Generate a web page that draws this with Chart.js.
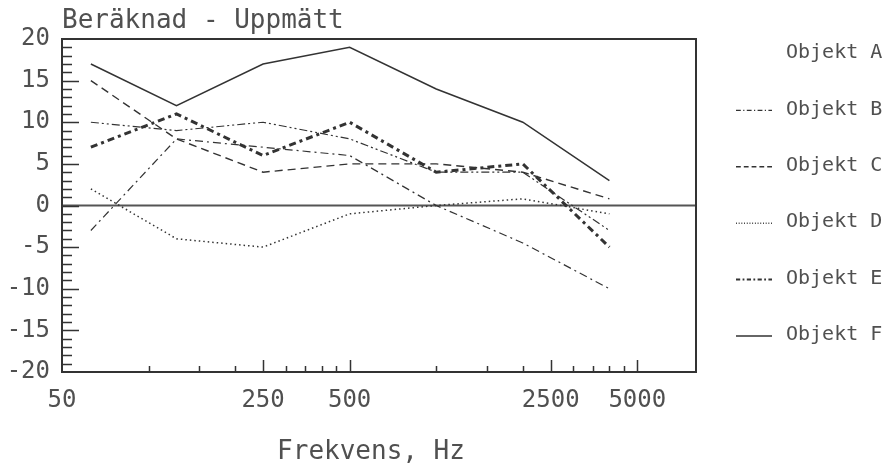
<!DOCTYPE html>
<html>
<head>
<meta charset="utf-8">
<script src="https://cdn.jsdelivr.net/npm/chart.js@4.4.1/dist/chart.umd.min.js"></script>
<style>
  html, body { margin: 0; padding: 0; background: #fff; }
  canvas { display: block; }
</style>
</head>
<body>
<canvas id="chart" width="889" height="463"></canvas>
<script>
// frekvenser (oktavband) och skillnad beräknad - uppmätt
const freqs = [63, 125, 250, 500, 1000, 2000, 4000];
const objektA = [10, 9, 10, 8, 4, 4, -3];
const objektB = [-3, 8, 7, 6, 0, -4.5, -10];
const objektC = [15, 8, 4, 5, 5, 4, 0.8];
const objektD = [2, -4, -5, -1, 0, 0.8, -1];
const objektE = [7, 11, 6, 10, 4, 5, -5];
const objektF = [17, 12, 17, 19, 14, 10, 3];

const xTicks = [50, 100, 150, 200, 250, 300, 350, 400, 450, 500, 1000, 1500, 2000, 2500, 3000, 3500, 4000, 4500, 5000];
const xLabels = [50, 250, 500, 2500, 5000];
const seriesNames = ['Objekt A', 'Objekt B', 'Objekt C', 'Objekt D', 'Objekt E', 'Objekt F'];

const ink = '#333';
const textInk = '#505050';
const font = 'DejaVu Sans Mono';

const toPoints = arr => freqs.map((f, i) => ({ x: f, y: arr[i] }));

const styles = [
    { borderDash: [8, 3, 2, 3, 2, 3], borderWidth: 1.2 },
    { borderDash: [8, 4, 2, 4], borderWidth: 1.2 },
    { borderDash: [8, 5], borderWidth: 1.4 },
    { borderDash: [1.5, 3], borderWidth: 1.5 },
    { borderDash: [7, 4, 3, 4], borderWidth: 3 },
    { borderDash: [], borderWidth: 1.5 }
];

const allData = [objektA, objektB, objektC, objektD, objektE, objektF];

// ram, nollinje, ticks, titlar och legend
const decor = {
    id: 'decor',
    beforeDatasetsDraw(chart) {
        const { ctx, chartArea: a, scales: { y } } = chart;
        ctx.save();
        ctx.strokeStyle = '#555';
        ctx.lineWidth = 2;
        const y0 = y.getPixelForValue(0);
        ctx.beginPath();
        ctx.moveTo(a.left, y0);
        ctx.lineTo(a.right, y0);
        ctx.stroke();
        ctx.restore();
    },
    afterDraw(chart) {
        const { ctx, chartArea: a, scales: { x, y } } = chart;
        ctx.save();
        ctx.strokeStyle = ink;
        ctx.lineWidth = 2;
        ctx.strokeRect(a.left, a.top, a.right - a.left, a.bottom - a.top);

        ctx.lineWidth = 1.5;
        ctx.beginPath();
        for (let v = -19; v < 20; v++) {
            const py = Math.round(y.getPixelForValue(v)) + 0.5;
            const len = v % 5 === 0 ? 17 : 10;
            ctx.moveTo(a.left, py);
            ctx.lineTo(a.left + len, py);
        }
        xTicks.forEach(t => {
            if (t === 50) return;
            const px = Math.round(x.getPixelForValue(t)) + 0.5;
            const len = xLabels.includes(t) ? 12 : 6;
            ctx.moveTo(px, a.bottom);
            ctx.lineTo(px, a.bottom - len);
        });
        ctx.stroke();

        ctx.fillStyle = textInk;
        ctx.font = '26px "' + font + '"';
        ctx.textAlign = 'left';
        ctx.textBaseline = 'alphabetic';
        ctx.fillText('Beräknad - Uppmätt', a.left, 28);

        ctx.textAlign = 'center';
        ctx.textBaseline = 'middle';
        ctx.fillText('Frekvens, Hz', (a.left + a.right) / 2 - 8, 452);

        // legend
        ctx.font = '20px "' + font + '"';
        ctx.textAlign = 'left';
        chart.data.datasets.forEach((ds, i) => {
            const ly = 53 + i * 56.4;
            if (i > 0) {
                ctx.save();
                ctx.setLineDash(ds.borderDash.map(d => d * 0.6));
                ctx.lineWidth = Math.min(ds.borderWidth, 2);
                ctx.strokeStyle = ink;
                ctx.beginPath();
                ctx.moveTo(736, ly + 1);
                ctx.lineTo(772, ly + 1);
                ctx.stroke();
                ctx.restore();
            }
            ctx.fillText(ds.label, 786, ly);
        });
        ctx.restore();
    }
};

new Chart(document.getElementById('chart'), {
    type: 'line',
    data: {
        datasets: allData.map((arr, i) => ({
            label: seriesNames[i],
            data: toPoints(arr),
            borderColor: ink,
            borderDash: styles[i].borderDash,
            borderWidth: styles[i].borderWidth,
            pointRadius: 0,
            tension: 0,
            fill: false
        }))
    },
    options: {
        responsive: false,
        devicePixelRatio: 1,
        animation: false,
        layout: { padding: { left: 0, right: 193, top: 39, bottom: 0 } },
        plugins: {
            legend: { display: false },
            tooltip: { enabled: false }
        },
        scales: {
            x: {
                type: 'logarithmic',
                min: 50,
                max: 8000,
                grid: { display: false, drawTicks: false },
                border: { display: false },
                afterBuildTicks: scale => {
                    scale.ticks = xTicks.map(v => ({ value: v }));
                },
                afterFit: scale => { scale.height = 91; },
                ticks: {
                    autoSkip: false,
                    maxRotation: 0,
                    padding: 14,
                    color: textInk,
                    font: { family: font, size: 24 },
                    callback: v => xLabels.includes(v) ? String(v) : ''
                }
            },
            y: {
                min: -20,
                max: 20,
                grid: { display: false, drawTicks: false },
                border: { display: false },
                afterFit: scale => { scale.width = 62; },
                ticks: {
                    stepSize: 1,
                    autoSkip: false,
                    padding: 12,
                    color: textInk,
                    font: { family: font, size: 24 },
                    callback: v => v % 5 === 0 ? String(v) : ''
                }
            }
        }
    },
    plugins: [decor]
});
</script>
</body>
</html>
